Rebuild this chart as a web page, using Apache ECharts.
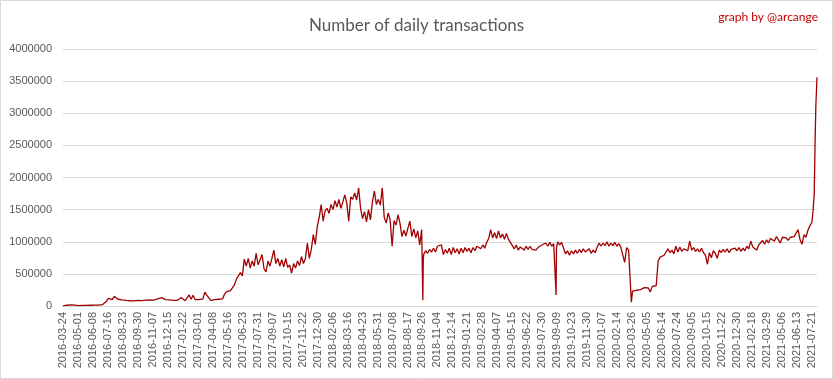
<!DOCTYPE html>
<html>
<head>
<meta charset="utf-8">
<script src="https://cdn.jsdelivr.net/npm/echarts@6/dist/echarts.min.js"></script>
<style>
html,body{margin:0;padding:0;background:#fff;}
#chart{width:833px;height:379px;}
</style>
</head>
<body>
<div id="chart"></div>
<script>
// Tick labels shown on the category axis (every 38th category)
const tickLabels = [
  '2016-03-24','2016-05-01','2016-06-08','2016-07-16','2016-08-23','2016-09-30','2016-11-07','2016-12-15',
  '2017-01-22','2017-03-01','2017-04-08','2017-05-16','2017-06-23','2017-07-31','2017-09-07','2017-10-15',
  '2017-11-22','2017-12-30','2018-02-06','2018-03-16','2018-04-23','2018-05-31','2018-07-08','2018-08-17',
  '2018-09-26','2018-11-04','2018-12-14','2019-01-21','2019-02-28','2019-04-07','2019-05-15','2019-06-22',
  '2019-07-30','2019-09-09','2019-10-23','2019-11-30','2020-01-07','2020-02-14','2020-03-26','2020-05-05',
  '2020-06-14','2020-07-24','2020-09-05','2020-10-15','2020-11-22','2020-12-30','2021-02-18','2021-03-29',
  '2021-05-06','2021-06-13','2021-07-21'
];
const categoryCount = 1914;
const labelEvery = 38;

// Daily transactions, one value every 5 categories
const seg2016a = [3000,5000,12000,15000,16000,15000,14000,8000,6000,9000,
  10000,11000,11000,12000,12000,13000,13000,14000,14000,15000,
  20000,45000,75000,120000,135000,100000,150000,180000,105000,120000,
  95000,105000,88000,95000,82000,90000,80000,88000];
const seg2016b = [88000,100000,85000,104000,90000,108000,95000,112000,92000,104000,
  110000,98000,130000,105000,100000,92000,95000,80000,86000,76000,
  88000,80000,132000,110000,82000,100000,172000,105000,168000,100000,
  125000,98000,118000,112000,215000,165000,175000,88000];
const seg2017a = [76000,98000,92000,105000,96000,112000,185000,225000,250000,240000,
  260000,330000,420000,450000,520000,470000,730000,620000,740000,590000,
  700000,620000,820000,640000,720000,800000,580000,530000,700000,620000,
  740000,870000,660000,740000,620000,720000,610000,740000];
const seg2017b = [600000,640000,510000,660000,590000,700000,630000,770000,660000,740000,
  980000,740000,880000,1110000,960000,1230000,1380000,1580000,1320000,1480000,
  1520000,1440000,1580000,1500000,1640000,1540000,1660000,1520000,1620000,1730000,
  1600000,1320000,1700000,1660000,1760000,1650000,1840000,1520000];
const seg2018 = [1360000,1470000,1310000,1500000,1340000,1620000,1790000,1580000,1660000,1570000,
  1840000,1380000,1290000,1450000,1340000,930000,1330000,1260000,1420000,1290000,
  1080000,1180000,1090000,1210000,1320000,1080000,1200000,1060000,1170000,950000,
  1190000,800000,860000,820000,880000,840000,900000,840000];
const seg2019a = [930000,900000,950000,800000,880000,820000,900000,800000,910000,830000,
  890000,810000,900000,830000,910000,850000,900000,830000,910000,860000,
  930000,960000,890000,950000,900000,990000,1050000,1190000,1060000,1140000,
  1050000,1170000,1060000,1120000,1040000,1130000,1040000,990000];
const seg2019b = [960000,890000,950000,870000,920000,900000,870000,930000,880000,930000,
  880000,900000,870000,910000,880000,950000,920000,980000,930000,990000,
  930000,970000,950000,1000000,950000,990000,900000,810000,860000,790000,
  860000,810000,870000,820000,880000,830000,890000,840000];
const seg2020a = [810000,890000,820000,870000,830000,910000,980000,930000,980000,940000,
  1000000,930000,980000,940000,990000,930000,970000,920000,950000,680000,
  910000,870000,880000,230000,215000,245000,230000,255000,250000,285000,
  300000,280000,220000,305000,285000,315000,700000,760000];
const seg2020b = [770000,790000,780000,890000,830000,870000,810000,930000,840000,920000,
  850000,890000,910000,860000,1010000,870000,910000,850000,890000,840000,
  900000,830000,790000,650000,830000,750000,860000,820000,740000,870000,
  830000,880000,840000,890000,830000,880000,850000,900000];
const seg2021 = [860000,910000,850000,900000,860000,930000,890000,1010000,920000,890000,
  870000,950000,970000,1020000,960000,1030000,980000,1050000,1080000,1010000,
  1080000,1030000,980000,1070000,1040000,1060000,1020000,1070000,1040000,1080000,
  1100000,1190000,1030000,960000,1110000,1070000,1180000,1250000];
// Single-day drops and the final surge: [category index, value]
const spikes = [[913,90000],[914,700000],[1251,170000],[1252,900000],[1442,60000]];
const finalSurge = [[1900,1300000],[1903,1480000],[1906,1750000],[1908,2500000],[1910,3100000],[1913,3560000]];

const yTicks = [0,500000,1000000,1500000,2000000,2500000,3000000,3500000,4000000];

// Build categories
const categories = [];
for (let i = 0; i < categoryCount; i++) {
  const k = Math.floor(i / labelEvery), j = i % labelEvery;
  categories.push(j === 0 ? tickLabels[k] : tickLabels[k] + '+' + j);
}
// Build series data
const segments = [seg2016a, seg2016b, seg2017a, seg2017b, seg2018, seg2019a, seg2019b, seg2020a, seg2020b, seg2021];
const sampleStep = 5;
let points = [];
segments.forEach((seg, s) => {
  const start = s * seg.length * sampleStep;
  seg.forEach((v, m) => points.push([start + m * sampleStep, v]));
});
points = points.concat(spikes, finalSurge).sort((a, b) => a[0] - b[0]);

const chart = echarts.init(document.getElementById('chart'), null, {renderer: 'canvas'});
chart.setOption({
  animation: false,
  backgroundColor: '#ffffff',
  title: [{
    text: 'Number of daily transactions',
    left: 'center',
    top: 12,
    textStyle: {fontFamily: 'Lato', fontSize: 17, fontWeight: 'normal', color: '#595959'}
  }, {
    text: 'graph by @arcange',
    right: 10,
    top: 6,
    textStyle: {fontFamily: 'Lato', fontSize: 12, fontWeight: 'normal', color: '#c00000'}
  }],
  graphic: [{
    type: 'rect',
    shape: {x: 0.5, y: 0.5, width: 832, height: 378},
    style: {fill: 'none', stroke: '#d9d9d9', lineWidth: 1},
    silent: true
  }],
  grid: {left: 63, right: 16, top: 49, bottom: 73, containLabel: false},
  xAxis: {
    type: 'category',
    data: categories,
    boundaryGap: false,
    axisLine: {show: true, lineStyle: {color: '#d9d9d9', width: 1}},
    axisTick: {show: false},
    splitLine: {show: false},
    axisLabel: {
      interval: labelEvery - 1,
      rotate: 90,
      margin: 6,
      fontFamily: 'Liberation Sans',
      fontSize: 11,
      color: '#595959',
      formatter: v => v.indexOf('+') >= 0 ? '' : v
    }
  },
  yAxis: {
    type: 'value',
    min: yTicks[0],
    max: yTicks[yTicks.length - 1],
    interval: yTicks[1] - yTicks[0],
    axisLine: {show: false},
    axisTick: {show: false},
    splitLine: {show: true, lineStyle: {color: '#d9d9d9', width: 1}},
    axisLabel: {
      margin: 11,
      fontFamily: 'Liberation Sans',
      fontSize: 11,
      color: '#595959',
      formatter: v => String(v)
    }
  },
  series: [{
    type: 'line',
    data: points,
    showSymbol: false,
    symbol: 'none',
    lineStyle: {color: '#a00000', width: 1.3},
    itemStyle: {color: '#a00000'}
  }]
});
</script>
</body>
</html>
